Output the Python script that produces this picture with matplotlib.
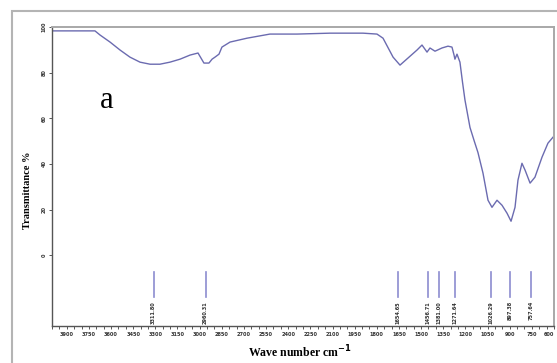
import numpy as np
import matplotlib
matplotlib.use("Agg")
import matplotlib.pyplot as plt
from matplotlib.patches import Rectangle

# spectrum (wavenumber cm-1, transmittance %)
wavenumber = [4000, 3709, 3675, 3607, 3539, 3472, 3404, 3336, 3269, 3201,
              3133, 3065, 3011, 2991, 2971, 2937, 2916, 2896, 2869, 2849,
              2794, 2679, 2524, 2341, 2117, 1894, 1799, 1758, 1690, 1643,
              1589, 1528, 1494, 1460, 1440, 1406, 1359, 1318, 1291, 1277,
              1271, 1257, 1237, 1220, 1203, 1169, 1140, 1115, 1081, 1047,
              1020, 986, 952, 918, 891, 864, 844, 817, 796, 762, 729, 681,
              641, 607]
transmittance = [98.3, 98.3, 96.5, 93.4, 89.9, 86.8, 84.6, 83.7, 83.7, 84.6,
                 85.9, 87.7, 88.6, 86.4, 84.2, 84.2, 85.9, 86.8, 88.1, 91.2,
                 93.4, 95.1, 96.9, 96.9, 97.3, 97.3, 96.9, 95.1, 86.8, 83.3,
                 86.4, 89.9, 92.1, 89.0, 90.8, 89.4, 90.8, 91.6, 91.2, 87.7,
                 85.9, 88.1, 84.6, 76.0, 68.0, 56.0, 50.0, 45.0, 36.0, 24.1,
                 21.0, 24.1, 21.9, 18.4, 14.9, 21.0, 32.9, 40.3, 37.3, 31.6,
                 34.2, 43.0, 49.1, 51.7]

# marked peaks
peaks = [3311.80, 2960.31, 1654.65, 1456.71, 1381.00, 1271.64, 1026.29,
         897.38, 757.64]

x_ticks = list(range(3900, 599, -150))
y_ticks = [0, 20, 40, 60, 80, 100]

fig = plt.figure(figsize=(5.57, 3.63), dpi=100)
fig.patches.append(Rectangle((12 / 557, -0.01), 1.0, 1 - 11 / 363 + 0.01,
                             transform=fig.transFigure, fill=False,
                             edgecolor="#b4b4b4", linewidth=1.5))

ax = fig.add_axes([52 / 557, 1 - 326 / 363, 502 / 557, 299 / 363])
ax.plot(wavenumber, transmittance, color="#6b6bb0", linewidth=1.0)

for p in peaks:
    ax.plot([p, p], [-7.5, -18.4], color="#8c8cd0", linewidth=1.2)
    ax.text(p, -20.0, "%.2f" % p, rotation=90, ha="center", va="top",
            fontsize=3.6, color="#333333", fontweight="bold")

ax.set_xlim(4000, 600)
ax.set_ylim(-31, 100)
ax.set_xticks(range(4000, 599, -50), minor=True)
ax.set_xticks(x_ticks)
ax.set_xticklabels([str(t) for t in x_ticks], fontsize=3.6, fontweight="bold",
                   color="#333333")
ax.get_xticklabels()[-1].set_horizontalalignment("right")
ax.set_yticks(y_ticks)
ax.set_yticklabels([str(t) for t in y_ticks], fontsize=3.6, fontweight="bold",
                   color="#333333", rotation=90, va="center")
ax.tick_params(axis="both", which="both", length=2, width=0.7, color="#555555",
               pad=2)

for side in ["top", "right"]:
    ax.spines[side].set_color("#a8a8a8")
    ax.spines[side].set_linewidth(1.4)
for side in ["left", "bottom"]:
    ax.spines[side].set_color("#555555")
    ax.spines[side].set_linewidth(1.0)

ax.text(0.096, 0.73, "a", transform=ax.transAxes, fontsize=22,
        family="Liberation Serif")

fig.text(28 / 557, 1 - 190 / 363, "Transmittance %", rotation=90,
         ha="center", va="center", fontsize=7.5, fontweight="bold",
         family="Liberation Serif")
fig.text(300 / 557, 1 - 352 / 363, r"Wave number cm$^{\mathbf{-1}}$",
         ha="center", va="center", fontsize=8.5, fontweight="bold",
         family="Liberation Serif")

fig.savefig("out.png", dpi=100)
